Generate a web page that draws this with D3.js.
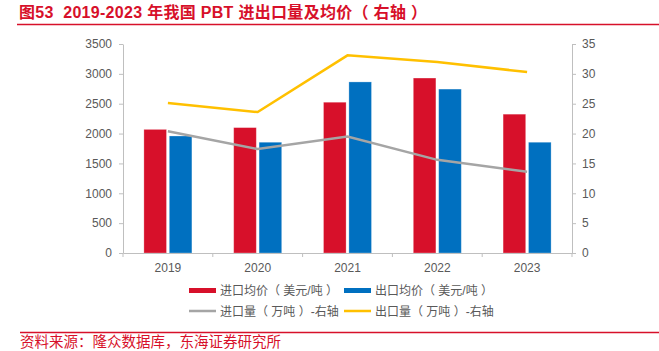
<!DOCTYPE html>
<html>
<head>
<meta charset="utf-8">
<script src="https://cdn.jsdelivr.net/npm/d3@7"></script>
<style>
  body { margin: 0; background: #fff; }
  svg text { font-family: "Liberation Sans", "Noto Sans CJK SC", Arial, sans-serif; white-space: pre; }
</style>
</head>
<body>
<script>
(function () {
  'use strict';

  const years = ['2019', '2020', '2021', '2022', '2023'];
  const importPrice = [2070, 2100, 2525, 2930, 2325];   // 美元/吨
  const exportPrice = [1960, 1855, 2865, 2745, 1855];
  const importVol = [20.4, 17.4, 19.5, 15.6, 13.6];     // 万吨, right axis
  const exportVol = [25.1, 23.6, 33.1, 32.0, 30.3];
  const leftTicks = [0, 500, 1000, 1500, 2000, 2500, 3000, 3500];
  const rightTicks = [0, 5, 10, 15, 20, 25, 30, 35];

  const W = 659, H = 351;
  const red = '#d7102a', blue = '#0070c0', gray = '#a5a5a5', yellow = '#ffc000';
  const axisColor = '#bfbfbf', textColor = '#595959';

  const svg = d3.select('body').append('svg')
    .attr('width', W).attr('height', H);

  // title + rules
  svg.append('text')
    .attr('x', 19).attr('y', 18)
    .attr('fill', red)
    .attr('font-size', 16).attr('font-weight', 'bold')
    .attr('letter-spacing', 0.3)
    .text('图53  2019-2023 年我国 PBT 进出口量及均价（ 右轴 ）');
  svg.append('line').attr('x1', 17).attr('x2', W).attr('y1', 24.5).attr('y2', 24.5)
    .attr('stroke', red).attr('stroke-width', 1.5);
  svg.append('line').attr('x1', 20).attr('x2', W).attr('y1', 332.5).attr('y2', 332.5)
    .attr('stroke', red).attr('stroke-width', 1.5);
  svg.append('text')
    .attr('x', 20).attr('y', 347)
    .attr('fill', red).attr('font-size', 14.5)
    .text('资料来源：隆众数据库，东海证券研究所');

  const left = 123, right = 572, top = 44, bottom = 253;

  const x = d3.scaleBand().domain(years).range([left, right]);
  const xSub = d3.scaleBand().domain(['imp', 'exp'])
    .range([x.bandwidth() / 2 - 24, x.bandwidth() / 2 + 24]).paddingInner(0.11);
  const yL = d3.scaleLinear().domain([0, 3500]).range([bottom, top]);
  const yR = d3.scaleLinear().domain([0, 35]).range([bottom, top]);

  // bars
  const bars = [
    { key: 'imp', vals: importPrice, color: red },
    { key: 'exp', vals: exportPrice, color: blue }
  ];
  bars.forEach(s => {
    svg.append('g').selectAll('rect')
      .data(years)
      .enter().append('rect')
      .attr('x', (d) => x(d) + xSub(s.key))
      .attr('width', xSub.bandwidth())
      .attr('y', (d, i) => yL(s.vals[i]))
      .attr('height', (d, i) => yL(0) - yL(s.vals[i]))
      .attr('fill', s.color)
      .attr('stroke', '#fff').attr('stroke-opacity', 0.35).attr('stroke-width', 0.8);
  });

  // axes
  const styleAxis = g => {
    g.select('.domain').attr('stroke', axisColor);
    g.selectAll('.tick line').attr('stroke', axisColor);
    g.selectAll('.tick text').attr('fill', textColor).attr('font-size', 12)
      .style('font-family', '"Liberation Sans", Arial, sans-serif');
  };

  svg.append('g')
    .attr('transform', `translate(${left},0)`)
    .call(d3.axisLeft(yL).tickValues(leftTicks).tickFormat(d3.format('d'))
      .tickSize(4).tickSizeOuter(0).tickPadding(7))
    .call(styleAxis);

  svg.append('g')
    .attr('transform', `translate(${right},0)`)
    .call(d3.axisRight(yR).tickValues(rightTicks).tickFormat(d3.format('d'))
      .tickSize(4).tickSizeOuter(0).tickPadding(6))
    .call(styleAxis);

  const xAxis = svg.append('g')
    .attr('transform', `translate(0,${bottom})`)
    .call(d3.axisBottom(x).tickSize(0).tickPadding(10))
    .call(styleAxis);
  // boundary ticks between categories
  xAxis.selectAll('.bound')
    .data(years.concat(['end']))
    .enter().append('line')
    .attr('class', 'bound')
    .attr('x1', (d, i) => left + i * x.bandwidth())
    .attr('x2', (d, i) => left + i * x.bandwidth())
    .attr('y1', 0).attr('y2', 4)
    .attr('stroke', axisColor);

  // lines on right axis
  const line = d3.line()
    .x((d, i) => x(years[i]) + x.bandwidth() / 2)
    .y(d => yR(d));

  svg.append('path').datum(importVol)
    .attr('d', line).attr('fill', 'none')
    .attr('stroke', gray).attr('stroke-width', 2.5);
  svg.append('path').datum(exportVol)
    .attr('d', line).attr('fill', 'none')
    .attr('stroke', yellow).attr('stroke-width', 2.5);

  // legend
  const legend = [
    { label: '进口均价（ 美元/吨 ）', color: red, h: 5, x: 189, y: 290.5 },
    { label: '出口均价（ 美元/吨 ）', color: blue, h: 5, x: 344, y: 290.5 },
    { label: '进口量（ 万吨 ）-右轴', color: gray, h: 2.5, x: 189, y: 311 },
    { label: '出口量（ 万吨 ）-右轴', color: yellow, h: 2.5, x: 344, y: 311 }
  ];
  const lg = svg.append('g').selectAll('g')
    .data(legend)
    .enter().append('g')
    .attr('transform', d => `translate(${d.x},${d.y})`);
  lg.append('rect')
    .attr('x', 0).attr('width', 27)
    .attr('y', d => -d.h / 2).attr('height', d => d.h)
    .attr('fill', d => d.color);
  lg.append('text')
    .attr('x', 31).attr('y', 4.5)
    .attr('fill', textColor).attr('font-size', 12)
    .text(d => d.label);
})();
</script>
</body>
</html>
